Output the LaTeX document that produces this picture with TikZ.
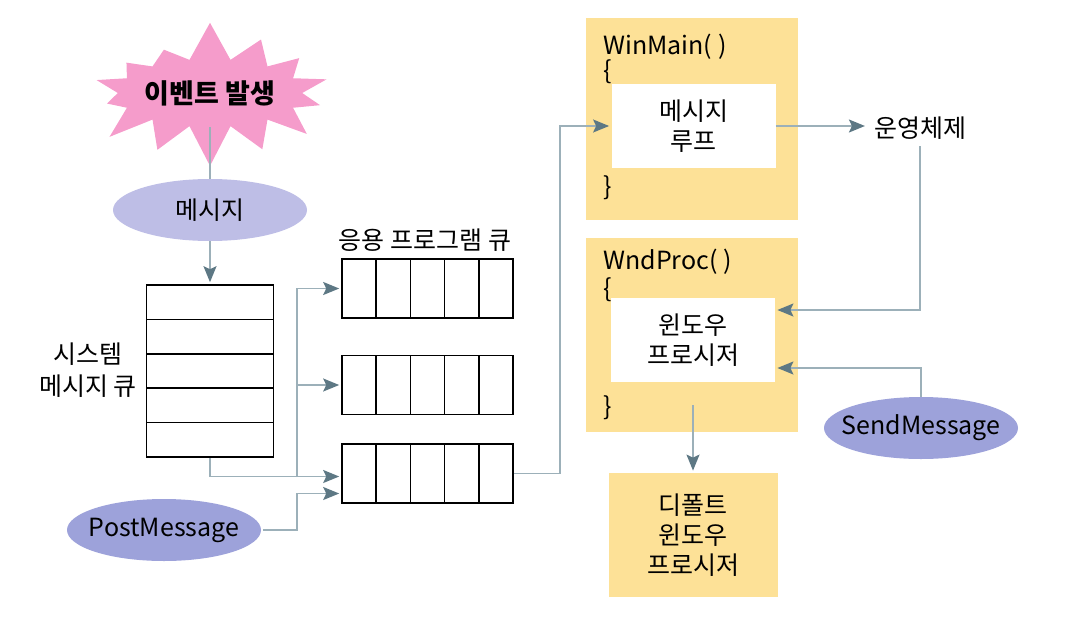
\documentclass[tikz,border=0pt]{standalone}
\usepackage{fontspec}
\setmainfont{Noto Sans CJK KR}
\usepackage{tikz}
\usetikzlibrary{shapes}
\usetikzlibrary{arrows.meta}
\usetikzlibrary{positioning}

\definecolor{starpink}{HTML}{F59CCB}
\definecolor{msgblue}{HTML}{BEBEE6}
\definecolor{callblue}{HTML}{9DA2DA}
\definecolor{codeyellow}{HTML}{FDE197}
\definecolor{linegray}{HTML}{9CB0B9}
\definecolor{tipgray}{HTML}{5D7884}

\begin{document}
\begin{tikzpicture}[x=1pt,y=-1pt,
    >={Stealth[length=8pt,width=6.5pt,inset=1.5pt,color=tipgray]},
    font=\fontsize{12.5}{15}\selectfont,
    plain line/.style={draw=linegray,line width=0.75pt},
    flow line/.style={plain line,->,shorten >=1pt},
    msg node/.style={ellipse,fill=#1,minimum width=97pt,minimum height=31pt,inner sep=0pt},
    star node/.style={starburst,fill=starpink,starburst points=14,starburst point height=20pt,
                      random starburst=7,minimum width=110pt,minimum height=74pt,inner sep=0pt},
    app queue/.style={draw=black,line width=0.8pt,minimum width=85.5pt,minimum height=29.5pt,inner sep=0pt,
                      path picture={\foreach \k in {1,...,4}
                        \draw[line width=0.8pt] ([xshift=\k*17.1pt]path picture bounding box.south west)
                                             -- ([xshift=\k*17.1pt]path picture bounding box.north west);}},
    sys queue/.style={draw=black,line width=0.8pt,minimum width=63.5pt,minimum height=86pt,inner sep=0pt,
                      path picture={\foreach \k in {1,...,4}
                        \draw[line width=0.8pt] ([yshift=\k*17.2pt]path picture bounding box.south west)
                                             -- ([yshift=\k*17.2pt]path picture bounding box.south east);}},
    code box/.style={rectangle,fill=codeyellow,inner sep=0pt},
    inner box/.style={rectangle,fill=white,inner sep=0pt,minimum width=82pt,minimum height=42pt,align=center},
    code text/.style={anchor=west,inner sep=0pt}]

    \useasboundingbox (0,0) rectangle (532.5,310.5);

    % left part
    \node[star node] (event) at (105,46.5) {\fontsize{13.5}{15}\selectfont\bfseries 이벤트 발생};
    \node[msg node=msgblue] (msg) at (105,105) {\makebox[0pt]{메시지}};
    \node[sys queue] (sysq) at (105,185.5) {};
    \node[align=center,font=\fontsize{12.5}{16}\selectfont] (syslabel) at (44,185) {시스템\\메시지 큐};
    \node[msg node=callblue] (post) at (82,265) {\makebox[0pt]{PostMessage}};

    % application queues
    \node (applabel) at (212.5,120) {응용 프로그램 큐};
    \node[app queue] (appA) at (213.75,144.25) {};
    \node[app queue] (appB) at (213.75,192.5) {};
    \node[app queue] (appC) at (213.75,236.75) {};

    % program side
    \node[code box,minimum width=106pt,minimum height=101pt] (winmain) at (346,59.5) {};
    \node[code text] (wmname) at (301.5,23.5) {WinMain( )};
    \node[code text] (wmopen) at (301.5,36) {\{};
    \node[code text] (wmclose) at (301.5,94) {\}};
    \node[inner box] (loop) at (346.75,63) {메시지\\루프};

    \node[code box,minimum width=106pt,minimum height=97pt] (wndproc) at (346,167.5) {};
    \node[code text] (wpname) at (301.5,131) {WndProc( )};
    \node[code text] (wpopen) at (301.5,145) {\{};
    \node[code text] (wpclose) at (301.5,204) {\}};
    \node[inner box] (proc) at (346.5,170) {윈도우\\프로시저};

    \node[code box,minimum width=84.5pt,minimum height=62pt,align=center] (dflt) at (346.5,267.5) {디폴트\\윈도우\\프로시저};

    \node (os) at (460,64) {운영체제};
    \node[msg node=callblue] (send) at (460.5,214) {\makebox[0pt]{SendMessage}};

    \coordinate (split) at (148.5,238.5);
    \coordinate (postbend) at (148.5,265);
    \coordinate (upturn) at (280,236.75);

    % connectors
    \draw[plain line] ([yshift=-17pt]event.center) -- (msg.north);
    \draw[flow line] (msg.south) -- (sysq.north);
    \draw[flow line] (sysq.south) |- ([yshift=-1.5pt]appC.west);
    \draw[flow line] (split) |- (appA.west);
    \draw[flow line] (split) |- (appB.west);
    \draw[flow line] ([xshift=1pt]post.east) -- (postbend) |- ([yshift=-10pt]appC.west);
    \draw[flow line] (appC.east) -- (upturn) |- (loop.west);
    \draw[flow line] (loop.east) -- (loop.east -| os.west);
    \draw[flow line] (os.south) |- ([yshift=15pt]proc.east);
    \draw[flow line] (send.north) |- ([yshift=-14pt]proc.east);
    \draw[flow line] ([yshift=-11.5pt]proc.south) -- (dflt.north);
\end{tikzpicture}
\end{document}
